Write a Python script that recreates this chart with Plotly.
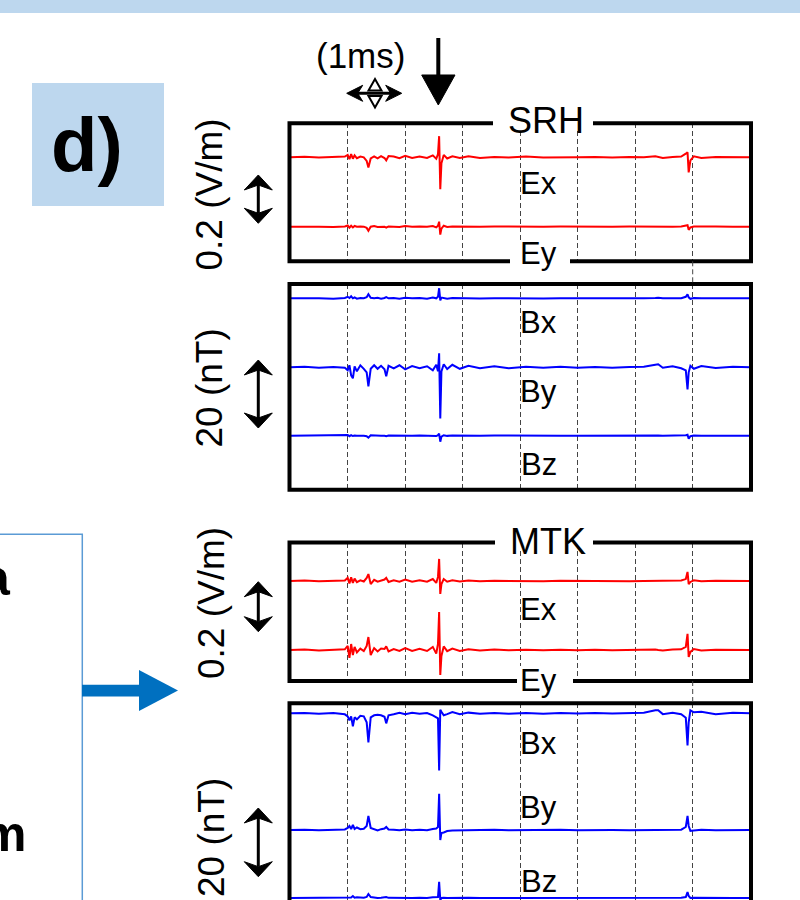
import plotly.graph_objects as go

W, H = 800, 900

# ---------------- data (time in ms; E in V/m, B in nT, relative to each trace baseline) ----------------
t_ms = [0.00, 0.25, 0.50, 0.75, 0.95, 1.00, 1.03, 1.06, 1.09, 1.12,
        1.16, 1.22, 1.28, 1.33, 1.36, 1.40, 1.46, 1.52, 1.58, 1.64,
        1.67, 1.71, 1.80, 1.90, 2.00, 2.12, 2.25, 2.38, 2.48, 2.54,
        2.57, 2.59, 2.61, 2.63, 2.67, 2.73, 2.82, 2.95, 3.10, 3.30,
        3.55, 3.80, 4.10, 4.40, 4.70, 5.00, 5.30, 5.60, 5.90, 6.15,
        6.35, 6.40, 6.48, 6.65, 6.80, 6.88, 6.91, 6.93, 6.96, 7.02,
        7.15, 7.40, 7.70, 8.00]

srh_ex = [0, 0.002, -0.001, 0.002, 0.003, 0.010, -0.008, 0.013, -0.006, 0.008,
          -0.004, 0.003, 0, -0.015, -0.042, -0.005, 0.004, -0.004, 0.005, -0.003,
          -0.013, 0.005, 0.003, -0.004, 0.006, -0.003, 0.003, -0.003, 0.008, -0.006,
          0.013, 0.088, -0.133, -0.025, 0.010, -0.005, 0.004, -0.003, 0.004, -0.003,
          0.001, -0.001, 0.003, -0.001, 0.001, 0, 0.001, -0.001, 0.001, 0,
          0.004, 0.001, -0.003, 0.001, 0.003, 0.015, 0.021, -0.063, -0.013, 0.004,
          -0.003, 0.001, 0, 0]
srh_ey = [0, 0.001, 0, -0.001, 0.001, 0.005, -0.004, 0.004, -0.003, 0.003,
          0, 0.001, 0, -0.005, -0.017, 0, 0.003, -0.001, 0.001, 0,
          -0.004, 0.001, 0, -0.001, 0.003, 0, 0.001, 0, 0.003, -0.003,
          0.004, 0.021, -0.033, -0.008, 0.004, -0.001, 0.001, 0, 0.001, 0,
          0.001, 0, 0.001, 0, 0.001, 0, 0.001, 0, 0.001, 0,
          0.001, 0, -0.001, 0, 0.001, 0.003, 0.006, -0.013, -0.003, 0.001,
          0, 0.001, 0, 0]
srh_bx = [0, 0.1, 0, -0.1, 0.1, 0.45, 0.1, 0.6, 0, 0.3,
          -0.1, 0.1, 0, 0.3, 1.2, 0.15, 0, 0.15, -0.1, 0.1,
          0.35, 0, 0.1, -0.1, 0.15, 0, 0.1, -0.1, 0.25, 0,
          0.45, 3.0, -0.6, 0.2, 0.1, -0.1, 0.1, 0, 0.1, -0.05,
          0.05, 0, 0.05, -0.05, 0.05, 0, 0.05, 0, -0.05, 0,
          0.1, 0.15, 0, 0.05, 0, 0.45, 1.2, 0.3, -0.15, 0.1,
          0, 0.05, 0, 0]
srh_by = [0, 0.15, -0.1, 0.1, -0.15, -0.9, 0.6, -2.4, -3.3, 0.3,
          -1.2, 0.6, -0.45, -1.5, -5.7, -0.45, 0.6, -0.45, 0.45, -0.6,
          -2.7, 0.45, -0.3, 0.6, -0.6, 0.35, -0.25, 0.3, -0.9, 0.75,
          -1.2, 4.2, -15.3, -1.2, 0.9, -0.55, 0.75, -0.45, 0.45, -0.25,
          0.3, -0.25, 0.15, -0.15, 0.15, -0.1, 0.1, -0.1, 0.1, 0.15,
          0.75, 0.9, -0.15, 0.3, -0.3, -0.9, -6.6, -1.5, 0.45, -0.45,
          0.35, -0.2, 0.15, 0]
srh_bz = [0, 0.05, 0, -0.05, 0.05, 0.2, -0.15, 0.15, -0.1, 0.05,
          0, 0.05, 0, -0.15, -0.6, 0.1, 0, 0.05, 0, -0.05,
          -0.15, 0.05, 0, -0.05, 0.05, 0, 0.05, 0, 0.1, -0.1,
          0.15, 0.6, -1.8, -0.3, 0.15, -0.05, 0.05, 0, 0.05, 0,
          0.05, 0, 0, 0.05, 0, 0, 0.05, 0, 0, 0,
          0.05, 0.05, 0, 0.05, 0, 0.15, 0.3, -0.9, -0.15, 0.05,
          0, 0.05, 0, 0]
mtk_ex = [0, 0.002, -0.001, 0.001, 0.002, 0.013, -0.010, 0.015, -0.008, 0.010,
          -0.005, 0.003, -0.002, 0.013, 0.029, -0.013, 0.005, -0.003, 0.003, 0.006,
          0.013, -0.004, 0.003, -0.003, 0.006, -0.003, 0.003, -0.003, 0.008, -0.008,
          0.017, 0.092, -0.054, -0.013, 0.008, -0.003, 0.003, -0.002, 0.002, -0.001,
          0.001, 0, 0.001, -0.001, 0.001, 0, 0.001, 0, -0.001, 0,
          0.001, 0, -0.001, 0.001, 0.002, 0.008, 0.038, -0.013, -0.004, 0.003,
          -0.001, 0.001, 0, 0]
mtk_ey = [0, 0.002, -0.002, 0.002, 0.003, 0.017, -0.033, 0.025, -0.021, 0.013,
          -0.010, 0.006, -0.004, 0.017, 0.054, -0.021, 0.008, -0.006, 0.006, 0.004,
          0.015, -0.006, 0.004, -0.004, 0.008, -0.004, 0.005, -0.004, 0.013, -0.015,
          0.025, 0.158, -0.104, -0.025, 0.015, -0.005, 0.006, -0.004, 0.003, -0.002,
          0.002, -0.001, 0.001, -0.001, 0.001, -0.001, 0.001, -0.001, 0.001, 0,
          0.002, 0, -0.002, 0.002, 0.003, 0.013, 0.067, -0.029, -0.008, 0.004,
          -0.002, 0.001, -0.001, 0]
mtk_bx = [0, 0.1, -0.1, 0.1, -0.3, -0.9, -2.1, -0.9, -3.9, -1.2,
          -1.8, -0.75, -0.9, -2.7, -8.7, -1.2, -0.6, -0.45, -0.6, -1.05,
          -3.0, -0.6, -0.3, 0.15, -0.3, 0.15, -0.15, 0.1, -0.6, -1.2,
          -1.5, -17.1, 1.05, 0.45, -0.6, -0.25, 0.35, -0.25, 0.2, -0.1,
          0.1, -0.1, 0.1, -0.1, 0.1, -0.05, 0.1, -0.05, 0.05, 0.15,
          0.9, 0.9, -0.25, 0.15, -0.3, -1.35, -9.6, -2.7, 0.9, 0.3,
          0.45, -0.25, 0.15, 0]
mtk_by = [0, 0.1, -0.1, 0.1, 0.15, 0.6, 1.2, 0.3, 1.5, 0.3,
          0.75, 0.25, 0.35, 1.2, 4.2, 0.6, 0.3, -0.15, 0.25, 0.45,
          0.9, 0.15, 0.1, -0.1, 0.15, -0.1, 0.1, -0.1, 0.3, 0.45,
          0.9, 10.8, -3.0, -0.9, -0.75, -0.3, -0.15, -0.1, 0.1, -0.05,
          0.05, -0.05, 0.05, 0, 0.05, -0.05, 0.05, 0, -0.05, 0,
          -0.15, 0, -0.1, 0.05, 0.1, 0.9, 4.2, 1.2, -0.25, -0.15,
          0.1, -0.05, 0.05, 0]
mtk_bz = [0, 0.05, 0, 0.05, 0.1, 0.3, 0.3, 0.15, 0.6, 0.1,
          0.2, 0.05, 0.1, 0.3, 1.2, 0.3, 0.1, 0, 0.05, 0.1,
          0.3, 0.05, 0, 0.05, 0.1, 0, 0.05, 0, 0.2, 0.3,
          0.3, 4.8, -0.6, 0, 0.1, 0, 0.05, 0, 0.05, 0,
          0, 0, 0.05, 0, 0, 0, 0.05, 0, 0, 0,
          0.05, 0.05, 0, 0, 0.05, 0.3, 1.8, 0.6, 0, 0.05,
          0, 0, 0, 0]

station_names = ["SRH", "MTK"]
e_labels = ["Ex", "Ey"]
b_labels = ["Bx", "By", "Bz"]
e_scale_label = "0.2 (V/m)"
b_scale_label = "20 (nT)"
time_label = "(1ms)"

# ---------------- layout geometry (pixels) ----------------
X_LEFT, X_RIGHT = 290.2, 750.2          # t = 0 .. 8 ms
BOX_L, BOX_R = 289.5, 751.0
E_SCALE = 240.0     # px per V/m
B_SCALE = 3.35      # px per nT
panels = [
    dict(series=[srh_ex, srh_ey], color="#FF0000", top=123.3, bot=261.3, scale=E_SCALE, base=[157.3, 226.7]),
    dict(series=[srh_bx, srh_by, srh_bz], color="#0000FF", top=284.0, bot=489.7, scale=B_SCALE, base=[298.3, 367.3, 435.7]),
    dict(series=[mtk_ex, mtk_ey], color="#FF0000", top=542.5, bot=681.0, scale=E_SCALE, base=[581.0, 650.0]),
    dict(series=[mtk_bx, mtk_by, mtk_bz], color="#0000FF", top=703.3, bot=900.0, scale=B_SCALE, base=[713.3, 830.0, 898.0]),
]


def px(x):
    return x / W


def py(y):
    return 1 - y / H


def path(points, close=True):
    s = "M " + " L ".join(f"{px(x):.5f},{py(y):.5f}" for x, y in points)
    return s + (" Z" if close else "")


FONT = "Liberation Sans, Arial, sans-serif"
fig = go.Figure()
layout = dict(width=W, height=H, margin=dict(l=0, r=0, t=0, b=0),
              paper_bgcolor="white", plot_bgcolor="white", showlegend=False)

for i, p in enumerate(panels, start=1):
    b0 = p["base"][0]
    s = p["scale"]
    for vals, bpx in zip(p["series"], p["base"]):
        off = -(bpx - b0) / s
        fig.add_trace(go.Scatter(x=t_ms, y=[v + off for v in vals], mode="lines",
                                 line=dict(color=p["color"], width=2),
                                 xaxis=f"x{i}", yaxis=f"y{i}", hoverinfo="skip"))
    sfx = "" if i == 1 else str(i)
    layout["xaxis" + sfx] = dict(domain=[px(X_LEFT), px(X_RIGHT)], range=[0, 8], anchor=f"y{i}",
                                 showgrid=True, griddash="5px,3px", gridcolor="#444", gridwidth=1,
                                 tick0=0, dtick=1, showticklabels=False, ticks="", zeroline=False,
                                 showline=False, fixedrange=True)
    layout["yaxis" + sfx] = dict(domain=[py(p["bot"]), py(p["top"])],
                                 range=[-(p["bot"] - b0) / s, (b0 - p["top"]) / s], anchor=f"x{i}",
                                 showgrid=False, showticklabels=False, ticks="", zeroline=False,
                                 showline=False, fixedrange=True)

shapes = []
# background decorations
shapes.append(dict(type="rect", xref="paper", yref="paper", x0=px(-2), x1=px(802), y0=py(13), y1=py(-2),
                   fillcolor="#BDD7EE", line=dict(width=0), layer="below"))
shapes.append(dict(type="rect", xref="paper", yref="paper", x0=px(32), x1=px(164), y0=py(206), y1=py(83),
                   fillcolor="#BDD7EE", line=dict(width=0), layer="below"))
shapes.append(dict(type="path", xref="paper", yref="paper",
                   path=path([(-5, 534.3), (82.3, 534.3), (82.3, 905)], close=False),
                   line=dict(color="#5B9BD5", width=1.5)))
shapes.append(dict(type="rect", xref="paper", yref="paper", x0=px(82), x1=px(141), y0=py(696.5), y1=py(684.8),
                   fillcolor="#0070C0", line=dict(width=0)))
shapes.append(dict(type="path", xref="paper", yref="paper",
                   path=path([(139, 670), (178, 690.5), (139, 711)]),
                   fillcolor="#0070C0", line=dict(width=0)))

# panel frames
for p in panels[:3]:
    shapes.append(dict(type="rect", xref="paper", yref="paper", x0=px(BOX_L), x1=px(BOX_R),
                       y0=py(p["bot"]), y1=py(p["top"]), line=dict(color="black", width=4)))
shapes.append(dict(type="path", xref="paper", yref="paper",
                   path=path([(BOX_L, 910), (BOX_L, 703.3), (BOX_R, 703.3), (BOX_R, 910)], close=False),
                   line=dict(color="black", width=4)))

# dashed grid continuation between panels at t = 7 ms
for xr, y0, y1 in [("x", 261.3, 284.0), ("x3", 681.0, 703.3)]:
    shapes.append(dict(type="line", xref=xr, yref="paper", x0=7, x1=7, y0=py(y0), y1=py(y1),
                       line=dict(color="#444", width=1, dash="5px,3px")))

# white gaps in frames behind labels
for x0, x1, y0, y1 in [(493, 593, 112, 128), (510, 570, 240, 266), (495, 593, 532, 548), (517, 573, 666, 686)]:
    shapes.append(dict(type="rect", xref="paper", yref="paper", x0=px(x0), x1=px(x1), y0=py(y1), y1=py(y0),
                       fillcolor="white", line=dict(width=0)))


def vdarrow(x, y0, y1, hw=14, hl=15, notch=10, lw=3):
    out = [dict(type="line", xref="paper", yref="paper", x0=px(x), x1=px(x), y0=py(y0 + notch), y1=py(y1 - notch),
                line=dict(color="black", width=lw))]
    out.append(dict(type="path", xref="paper", yref="paper",
                    path=path([(x, y0), (x + hw, y0 + hl), (x, y0 + notch), (x - hw, y0 + hl)]),
                    fillcolor="black", line=dict(color="black", width=1)))
    out.append(dict(type="path", xref="paper", yref="paper",
                    path=path([(x, y1), (x + hw, y1 - hl), (x, y1 - notch), (x - hw, y1 - hl)]),
                    fillcolor="black", line=dict(color="black", width=1)))
    return out


for yc0, yc1 in [(175, 223.3), (360, 428), (581.7, 631.7), (808, 876.7)]:
    shapes += vdarrow(258.3, yc0, yc1)

# horizontal (1 ms) double arrow
hx0, hx1, hy = 346.7, 401.7, 93.3
shapes.append(dict(type="line", xref="paper", yref="paper", x0=px(hx0 + 8), x1=px(hx1 - 8), y0=py(hy), y1=py(hy),
                   line=dict(color="black", width=3)))
shapes.append(dict(type="path", xref="paper", yref="paper",
                   path=path([(hx0, hy), (hx0 + 16, hy - 8), (hx0 + 11, hy), (hx0 + 16, hy + 8)]),
                   fillcolor="black", line=dict(color="black", width=1)))
shapes.append(dict(type="path", xref="paper", yref="paper",
                   path=path([(hx1, hy), (hx1 - 16, hy - 8), (hx1 - 11, hy), (hx1 - 16, hy + 8)]),
                   fillcolor="black", line=dict(color="black", width=1)))
shapes.append(dict(type="path", xref="paper", yref="paper",
                   path=path([(375, 79), (381.5, 90.5), (368.5, 90.5)]),
                   fillcolor="white", line=dict(color="black", width=2)))
shapes.append(dict(type="path", xref="paper", yref="paper",
                   path=path([(375, 107.5), (381.5, 96), (368.5, 96)]),
                   fillcolor="white", line=dict(color="black", width=2)))

# down arrow marking the event
shapes.append(dict(type="line", xref="paper", yref="paper", x0=px(438.3), x1=px(438.3), y0=py(38), y1=py(80),
                   line=dict(color="black", width=4)))
shapes.append(dict(type="path", xref="paper", yref="paper",
                   path=path([(421.7, 75), (455, 75), (438.3, 105)]),
                   fillcolor="black", line=dict(color="black", width=1)))

layout["shapes"] = shapes

annotations = []


def txt(text, x, y, size, bold=False, angle=0, xanchor="center"):
    t = f"<b>{text}</b>" if bold else text
    annotations.append(dict(text=t, x=px(x), y=py(y), xref="paper", yref="paper", showarrow=False,
                            xanchor=xanchor, yanchor="middle", textangle=angle,
                            font=dict(family=FONT, size=size, color="black")))


txt("d)", 86.5, 145, 76, bold=True)
txt("a", 13, 578, 50, bold=True, xanchor="right")
txt("m", 28, 834, 50, bold=True, xanchor="right")
txt(time_label, 360, 55, 35)

txt(station_names[0], 546, 120.4, 36)
txt(e_labels[0], 538.7, 183, 31)
txt(e_labels[1], 538.3, 254, 31)
txt(b_labels[0], 538.7, 323, 31)
txt(b_labels[1], 538.7, 391.3, 31)
txt(b_labels[2], 538.7, 464, 31)
txt(station_names[1], 548, 541.7, 36)
txt(e_labels[0], 538.7, 609, 31)
txt(e_labels[1], 538.7, 680.7, 31)
txt(b_labels[0], 538.7, 743, 31)
txt(b_labels[1], 538.7, 807.7, 31)
txt(b_labels[2], 538.7, 881, 31)

txt(e_scale_label, 208.5, 195, 37, angle=-90)
txt(b_scale_label, 208.5, 388, 37, angle=-90)
txt(e_scale_label, 211, 603, 37, angle=-90)
txt(b_scale_label, 211, 838, 37, angle=-90)

layout["annotations"] = annotations
fig.update_layout(**layout)
fig.write_html("out.html", config={"displayModeBar": False},
               post_script="document.body.style.margin='0';document.body.style.overflow='hidden';")
